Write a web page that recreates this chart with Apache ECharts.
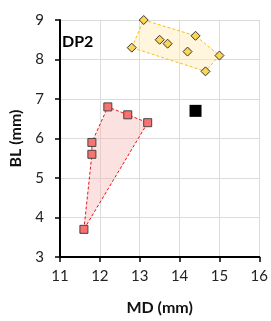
<!DOCTYPE html>
<html>
<head>
<meta charset="utf-8">
<script src="https://cdn.jsdelivr.net/npm/echarts@6/dist/echarts.min.js"></script>
<style>
  html, body { margin: 0; padding: 0; background: #fff; }
  #chart { width: 271px; height: 321px; }
</style>
</head>
<body>
<div id="chart"></div>
<script>
// values
const redMD = [11.6, 11.8, 11.8, 12.2, 12.7, 13.2];
const redBL = [3.7, 5.6, 5.9, 6.8, 6.6, 6.4];
const redHull = [0, 1, 2, 3, 4, 5];

const goldMD = [12.8, 13.1, 13.5, 13.7, 14.2, 14.4, 15.0, 14.65];
const goldBL = [8.3, 9.0, 8.5, 8.4, 8.2, 8.6, 8.1, 7.7];
const goldHull = [0, 1, 5, 6, 7];

const refMD = [14.4];
const refBL = [6.7];

const xTicks = [11, 12, 13, 14, 15, 16];
const yTicks = [3, 4, 5, 6, 7, 8, 9];
const label = "DP2";

const font = "Lato, 'Open Sans', sans-serif";

function pairs(xs, ys) {
  return xs.map((x, i) => [x, ys[i]]);
}

function hullSeries(xs, ys, hull, fill, stroke) {
  return {
    type: "custom",
    z: 1,
    silent: true,
    data: [0],
    renderItem: function (params, api) {
      const pts = hull.map(i => api.coord([xs[i], ys[i]]));
      return {
        type: "polygon",
        shape: { points: pts },
        style: {
          fill: fill,
          stroke: stroke,
          lineWidth: 1,
          lineDash: [3, 2]
        }
      };
    }
  };
}

const myChart = echarts.init(document.getElementById("chart"), null, { renderer: "canvas" });

const option = {
  backgroundColor: "#fff",
  animation: false,
  grid: { left: 54.5, right: 11, top: 20, bottom: 53 },
  xAxis: {
    type: "value",
    min: xTicks[0],
    max: xTicks[xTicks.length - 1],
    interval: 1,
    name: "MD (mm)",
    nameLocation: "middle",
    nameGap: 43,
    nameTextStyle: { fontFamily: font, fontWeight: "bold", fontSize: 16, color: "#111" },
    axisLine: { show: true, lineStyle: { color: "#000", width: 2 } },
    axisTick: { show: true, length: 5, lineStyle: { color: "#000", width: 1.5 } },
    axisLabel: { fontFamily: font, fontSize: 15, color: "#222", margin: 12 },
    splitLine: { show: true, lineStyle: { color: "#dcdcdc", width: 1 } }
  },
  yAxis: {
    type: "value",
    min: yTicks[0],
    max: yTicks[yTicks.length - 1],
    interval: 1,
    name: "BL (mm)",
    nameLocation: "middle",
    nameGap: 36,
    nameTextStyle: { fontFamily: font, fontWeight: "bold", fontSize: 16, color: "#111" },
    axisLine: { show: true, lineStyle: { color: "#000", width: 2 } },
    axisTick: { show: true, length: 5, lineStyle: { color: "#000", width: 1.5 } },
    axisLabel: { fontFamily: font, fontSize: 15, color: "#222", margin: 16 },
    splitLine: { show: true, lineStyle: { color: "#dcdcdc", width: 1 } }
  },
  graphic: [
    {
      type: "text",
      left: 62,
      top: 34,
      style: { text: label, fontFamily: font, fontWeight: "bold", fontSize: 16, fill: "#000" }
    }
  ],
  series: [
    hullSeries(redMD, redBL, redHull, "rgba(248, 180, 180, 0.4)", "#ee1111"),
    hullSeries(goldMD, goldBL, goldHull, "rgba(255, 235, 180, 0.45)", "#f5bf1f"),
    {
      type: "scatter",
      z: 3,
      symbol: "rect",
      symbolSize: 8,
      data: pairs(redMD, redBL),
      itemStyle: { color: "#f87272", borderColor: "#444", borderWidth: 1, opacity: 1 }
    },
    {
      type: "scatter",
      z: 3,
      symbol: "diamond",
      symbolSize: 9,
      data: pairs(goldMD, goldBL),
      itemStyle: { color: "#ffd54f", borderColor: "#333", borderWidth: 1, opacity: 1 }
    },
    {
      type: "scatter",
      z: 3,
      symbol: "rect",
      symbolSize: 12,
      data: pairs(refMD, refBL),
      itemStyle: { color: "#000", opacity: 1 }
    }
  ]
};

myChart.setOption(option);
</script>
</body>
</html>
